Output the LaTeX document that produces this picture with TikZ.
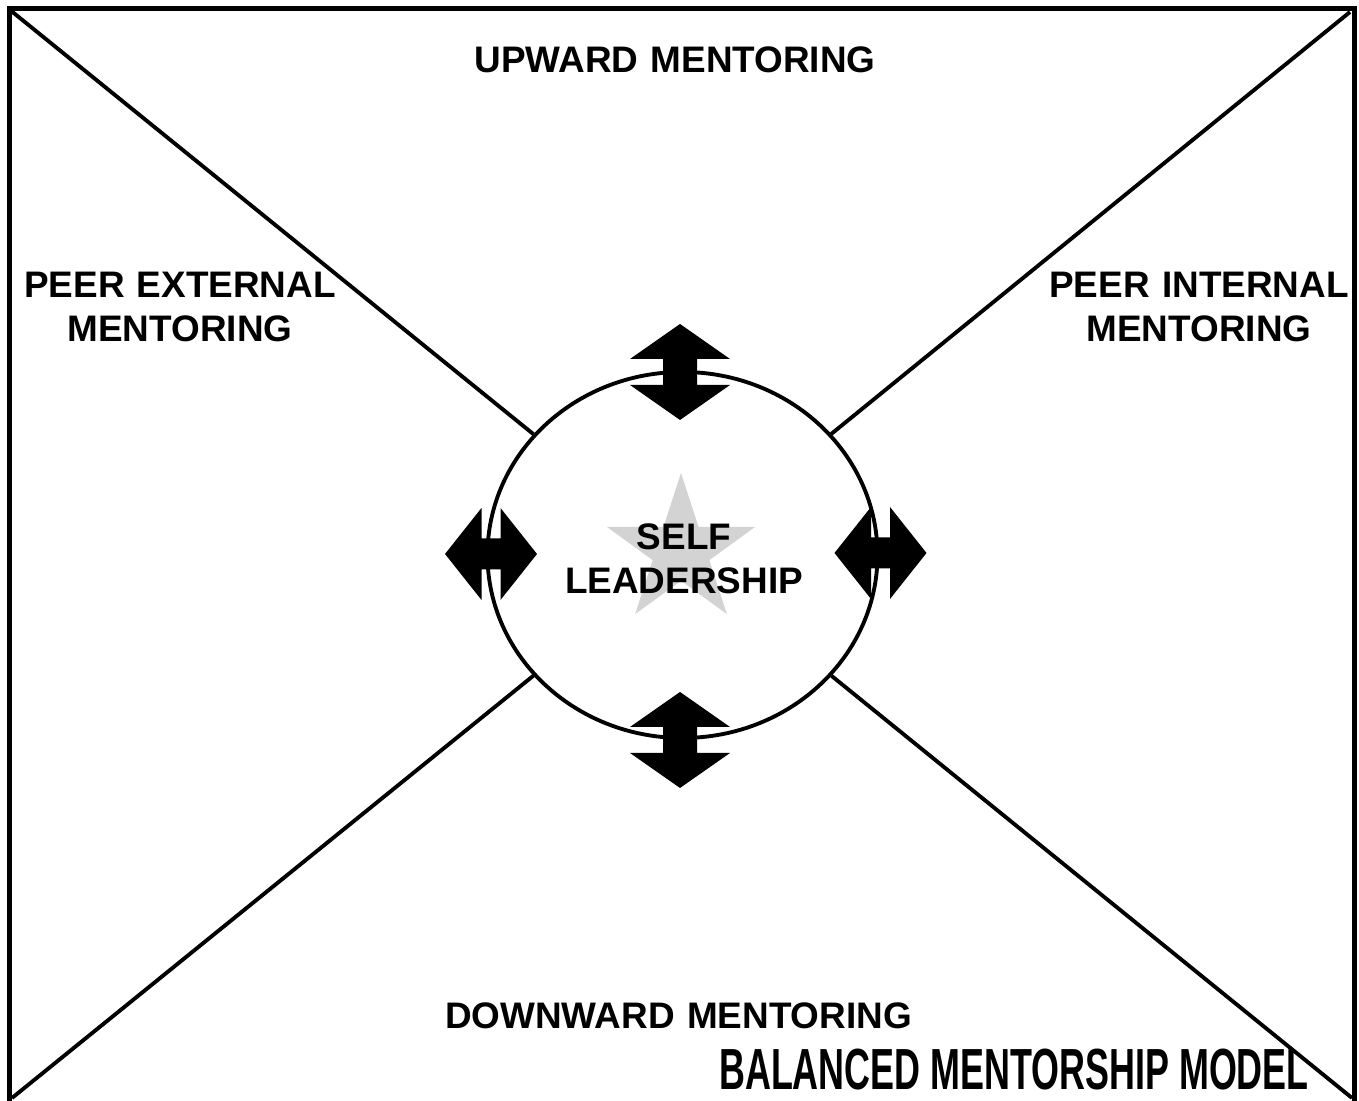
\documentclass[tikz,border=0pt]{standalone}
\usepackage{fontspec}
\setmainfont{Liberation Sans}
\usepackage{xcolor}
\usepackage{tikz}
\usetikzlibrary{shapes.geometric}

\definecolor{stargray}{RGB}{211,211,211}
\tikzset{
  lbl/.style={text width=4cm, align=center, inner sep=0pt,
    font=\fontsize{10.5pt}{12.5pt}\selectfont\bfseries},
  edge/.style={line width=1.1pt},
}
% double headed arrows, #1 = centre
\newcommand{\vtwoway}[1]{\fill[shift={#1}] (0,0.48) -- (0.50,0.13) -- (0.17,0.13) -- (0.17,-0.13) -- (0.50,-0.13) -- (0,-0.48) -- (-0.50,-0.13) -- (-0.17,-0.13) -- (-0.17,0.13) -- (-0.50,0.13) -- cycle;}
\newcommand{\htwoway}[1]{\fill[shift={#1}] (0.46,0) -- (0.095,0.46) -- (0.095,0.155) -- (-0.095,0.155) -- (-0.095,0.46) -- (-0.46,0) -- (-0.095,-0.46) -- (-0.095,-0.155) -- (0.095,-0.155) -- (0.095,-0.46) -- cycle;}

\begin{document}
\begin{tikzpicture}
\useasboundingbox (0,0) rectangle (13.59,11.01);
%\draw[help lines] (0,0) grid (13.59,11.01);
\draw[line width=1.4pt] (0.095,-0.1) -- (0.095,10.925) -- (13.545,10.925) -- (13.545,-0.1);
\coordinate (tl) at (0.10,10.91);
\coordinate (tr) at (13.50,10.89);
\coordinate (bl) at (0.12,0.03);
\coordinate (br) at (13.52,0.03);
\node[ellipse, draw, edge, minimum width=3.90cm, minimum height=3.66cm, inner sep=0pt] (self) at (6.825,5.46) {};
\draw[edge] (tl) -- (self);
\draw[edge] (tr) -- (self);
\draw[edge] (bl) -- (self);
\draw[edge] (br) -- (self);
\node[star, star points=5, star point ratio=2.618, fill=stargray, minimum size=1.56cm, inner sep=0pt] (star) at (6.81,5.50) {};
\vtwoway{(6.80,7.29)}
\vtwoway{(6.80,3.61)}
\htwoway{(4.91,5.47)}
\htwoway{(8.805,5.48)}
\node[lbl, text width=6cm] (up) at (6.75,10.415) {UPWARD MENTORING};
\node[lbl] (pext) at (1.80,7.94) {PEER EXTERNAL\\MENTORING};
\node[lbl] (pint) at (11.99,7.94) {PEER INTERNAL\\MENTORING};
\node[lbl] (lead) at (6.84,5.425) {SELF\\LEADERSHIP};
\node[lbl, text width=6cm] (down) at (6.785,0.855) {DOWNWARD MENTORING};
\node[inner sep=0pt, font=\fontsize{16.5pt}{20pt}\selectfont\bfseries] (title) at (10.14,0.31) {\scalebox{0.619}[1]{BALANCED MENTORSHIP MODEL}};
\end{tikzpicture}
\end{document}
